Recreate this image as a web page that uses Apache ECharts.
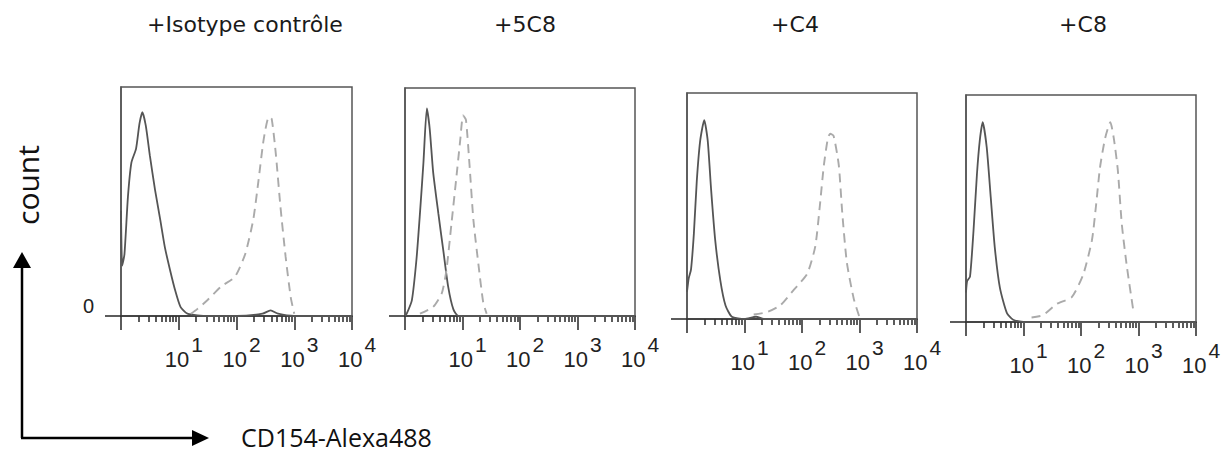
<!DOCTYPE html>
<html>
<head>
<meta charset="utf-8">
<script src="https://cdn.jsdelivr.net/npm/echarts@6/dist/echarts.min.js"></script>
<style>
  html, body { margin: 0; padding: 0; background: #fff; }
  #chart { width: 1225px; height: 456px; }
</style>
</head>
<body>
<div id="chart"></div>
<script>
// panel titles and x tick labels (10^n)
const panelTitles = ['+Isotype contrôle', '+5C8', '+C4', '+C8']
const decadeExponents = ['1', '2', '3', '4']
const majorTicks = [0, 1, 2, 3, 4]

// histograms: [log10 intensity, count relative to box height]
const isoSolid = [[0, 0.46], [0.02, 0.22], [0.06, 0.27], [0.12, 0.52], [0.18, 0.67], [0.26, 0.73], [0.32, 0.84], [0.37, 0.89], [0.43, 0.83], [0.50, 0.70], [0.59, 0.55], [0.68, 0.42], [0.76, 0.30], [0.85, 0.20], [0.94, 0.11], [1.03, 0.04], [1.15, 0.01], [1.5, 0], [2.0, 0], [2.45, 0.01], [2.59, 0.025], [2.72, 0.01], [3.0, 0], [4, 0]]
const isoDashed = [[1.21, 0.01], [1.32, 0.03], [1.50, 0.07], [1.74, 0.13], [1.97, 0.17], [2.15, 0.27], [2.29, 0.42], [2.38, 0.59], [2.47, 0.77], [2.56, 0.87], [2.61, 0.86], [2.68, 0.71], [2.76, 0.48], [2.85, 0.26], [2.94, 0.08], [3.0, 0.01]]

const s5c8Solid = [[0, 0], [0.03, 0.01], [0.12, 0.07], [0.20, 0.25], [0.26, 0.45], [0.32, 0.67], [0.38, 0.91], [0.43, 0.82], [0.49, 0.63], [0.58, 0.45], [0.67, 0.28], [0.75, 0.13], [0.84, 0.03], [0.93, 0], [1.5, 0], [4, 0]]
const s5c8Dashed = [[0.26, 0.01], [0.49, 0.04], [0.64, 0.10], [0.72, 0.20], [0.81, 0.41], [0.89, 0.60], [0.96, 0.77], [1.01, 0.88], [1.06, 0.86], [1.12, 0.67], [1.19, 0.42], [1.28, 0.22], [1.36, 0.06], [1.42, 0.01]]

const c4Solid = [[0, 0.12], [0.03, 0.18], [0.07, 0.22], [0.12, 0.38], [0.17, 0.61], [0.23, 0.79], [0.30, 0.88], [0.36, 0.79], [0.42, 0.57], [0.49, 0.35], [0.58, 0.17], [0.67, 0.06], [0.78, 0.01], [1.0, 0], [1.2, 0.01], [1.35, 0], [4, 0]]
const c4Dashed = [[1.16, 0.02], [1.39, 0.03], [1.62, 0.06], [1.86, 0.13], [2.09, 0.20], [2.23, 0.32], [2.31, 0.50], [2.38, 0.68], [2.45, 0.80], [2.49, 0.82], [2.55, 0.81], [2.64, 0.68], [2.70, 0.47], [2.78, 0.25], [2.90, 0.09], [3.01, 0]]

const c8Solid = [[0, 0.13], [0.02, 0.18], [0.07, 0.20], [0.13, 0.40], [0.19, 0.65], [0.24, 0.80], [0.29, 0.88], [0.36, 0.77], [0.43, 0.55], [0.50, 0.33], [0.59, 0.15], [0.71, 0.04], [0.82, 0.01], [1.0, 0], [4, 0]]
const c8Dashed = [[1.14, 0.02], [1.34, 0.03], [1.58, 0.08], [1.84, 0.11], [2.04, 0.21], [2.19, 0.36], [2.26, 0.51], [2.33, 0.68], [2.42, 0.81], [2.51, 0.88], [2.57, 0.81], [2.64, 0.67], [2.71, 0.43], [2.80, 0.24], [2.91, 0.05]]

const solidSeries = [isoSolid, s5c8Solid, c4Solid, c8Solid]
const dashedSeries = [isoDashed, s5c8Dashed, c4Dashed, c8Dashed]

// box of each panel
const boxes = [
  { left: 121, top: 87, width: 231, height: 229, cx: 245 },
  { left: 405, top: 88, width: 230, height: 228, cx: 525 },
  { left: 687, top: 93, width: 230, height: 226, cx: 795 },
  { left: 966, top: 95, width: 230, height: 227, cx: 1083 }
]

// minor ticks 2..9 in every decade
let minorTicks = []
for (let d = 0; d < 4; d++) {
  for (let k = 2; k <= 9; k++) minorTicks.push(d + Math.log10(k))
}

let grid = [], xAxis = [], yAxis = [], series = [], graphic = []

boxes.forEach((b, i) => {
  grid.push({
    left: b.left, top: b.top, width: b.width, height: b.height,
    show: true, borderColor: '#555', borderWidth: 1.5, backgroundColor: '#fff'
  })
  xAxis.push({
    type: 'value', gridIndex: i, min: 0, max: 4, position: 'bottom',
    splitLine: { show: false },
    axisLine: { show: true, onZero: false, lineStyle: { color: '#333', width: 1.6 } },
    axisTick: { show: true, customValues: majorTicks, length: 14, lineStyle: { color: '#333', width: 1.6 } },
    axisLabel: {
      show: true,
      customValues: decadeExponents.map(Number),
      margin: 18,
      formatter: v => '{p|}{b|10}{s|' + decadeExponents[Math.round(v) - 1] + '}',
      rich: {
        p: { width: 10, height: 36 },
        b: { fontSize: 22, lineHeight: 22, verticalAlign: 'bottom', fontFamily: 'Liberation Sans', color: '#222' },
        s: { fontSize: 21, lineHeight: 21, verticalAlign: 'top', fontFamily: 'Liberation Sans', color: '#222', padding: [0, 0, 0, 2] }
      }
    }
  })
  xAxis.push({
    type: 'value', gridIndex: i, min: 0, max: 4, position: 'bottom',
    splitLine: { show: false },
    axisLine: { show: false },
    axisTick: { show: true, customValues: minorTicks, length: 6, lineStyle: { color: '#333', width: 1.6 } },
    axisLabel: { show: false }
  })
  yAxis.push({
    type: 'value', gridIndex: i, min: 0, max: 1,
    splitLine: { show: false },
    axisLine: { show: true, lineStyle: { color: '#555', width: 1.5 } },
    axisTick: { show: true, customValues: [0], length: 16, lineStyle: { color: '#333', width: 1.6 } },
    axisLabel: {
      show: i === 0, customValues: [0], formatter: () => '0', margin: 27,
      verticalAlign: 'bottom', fontSize: 20, fontFamily: 'Liberation Sans', color: '#222'
    }
  })
  series.push({
    type: 'line', xAxisIndex: 2 * i, yAxisIndex: i, data: solidSeries[i],
    symbol: 'none', smooth: 0.2, lineStyle: { color: '#555', width: 1.8 }, z: 3
  })
  series.push({
    type: 'line', xAxisIndex: 2 * i, yAxisIndex: i, data: dashedSeries[i],
    symbol: 'none', smooth: 0.2, lineStyle: { color: '#aaa', width: 1.9, type: [9, 6] }, z: 3
  })
  graphic.push({
    type: 'text', x: b.cx, y: 24,
    style: { text: panelTitles[i], font: '22px "DejaVu Sans"', fill: '#1a1a1a', align: 'center', verticalAlign: 'middle', textAlign: 'center', textVerticalAlign: 'middle' }
  })
})

// axis arrows and axis names
graphic.push(
  { type: 'line', shape: { x1: 22, y1: 438, x2: 22, y2: 264 }, style: { stroke: '#000', lineWidth: 2.5 } },
  { type: 'polygon', shape: { points: [[13, 268], [22, 252], [31, 268]] }, style: { fill: '#000' } },
  { type: 'line', shape: { x1: 21, y1: 438, x2: 196, y2: 438 }, style: { stroke: '#000', lineWidth: 2.5 } },
  { type: 'polygon', shape: { points: [[192, 430], [209, 438], [192, 446]] }, style: { fill: '#000' } },
  {
    type: 'text', x: 27, y: 185, rotation: Math.PI / 2,
    style: { text: 'count', font: '30px "Open Sans"', fill: '#111', align: 'center', verticalAlign: 'middle', textAlign: 'center', textVerticalAlign: 'middle' }
  },
  {
    type: 'text', x: 241, y: 437,
    style: { text: 'CD154-Alexa488', font: '25px "Open Sans"', fill: '#111', align: 'left', verticalAlign: 'middle', textAlign: 'left', textVerticalAlign: 'middle' }
  }
)

let myChart = echarts.init(document.getElementById('chart'), null, { renderer: 'svg' })
myChart.setOption({
  animation: false,
  backgroundColor: '#fff',
  grid: grid,
  xAxis: xAxis,
  yAxis: yAxis,
  series: series,
  graphic: graphic
})
</script>
</body>
</html>
